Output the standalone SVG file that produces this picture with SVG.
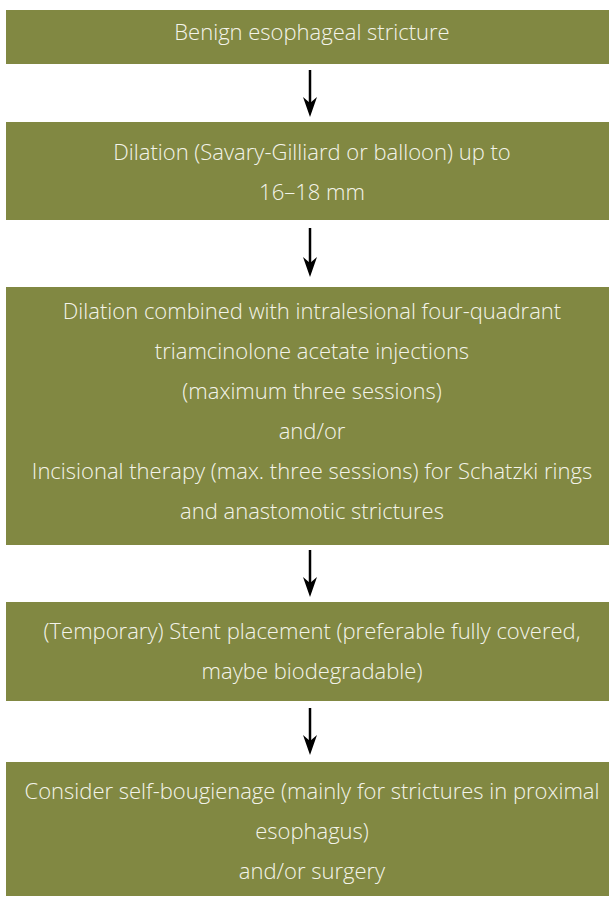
<svg xmlns="http://www.w3.org/2000/svg" width="609" height="897" viewBox="0 0 609 897">
<style>
.box{fill:#818842;}
.t{font-family:"Open Sans","Noto Sans","Liberation Sans",sans-serif;font-size:22px;font-weight:300;fill:#f4f4ea;text-anchor:middle;}
.ln{stroke:#000;stroke-width:2.5;fill:none;}
.hd{fill:#000;}
</style>
<rect width="609" height="897" fill="#fff"/>
<g id="n1"><rect class="box" x="6" y="10" width="603" height="54"/>
<text class="t" x="312" y="40">Benign esophageal stricture</text></g>
<g id="n2"><rect class="box" x="6" y="122" width="603" height="98"/>
<text class="t" x="312" y="160">Dilation (Savary-Gilliard or balloon) up to</text>
<text class="t" x="312" y="200">16–18 mm</text></g>
<g id="n3"><rect class="box" x="6" y="287" width="603" height="258"/>
<text class="t" x="312" y="319">Dilation combined with intralesional four-quadrant</text>
<text class="t" x="312" y="359">triamcinolone acetate injections</text>
<text class="t" x="312" y="399">(maximum three sessions)</text>
<text class="t" x="312" y="439">and/or</text>
<text class="t" x="312" y="479">Incisional therapy (max. three sessions) for Schatzki rings</text>
<text class="t" x="312" y="519">and anastomotic strictures</text></g>
<g id="n4"><rect class="box" x="6" y="602" width="603" height="99"/>
<text class="t" x="312" y="639">(Temporary) Stent placement (preferable fully covered,</text>
<text class="t" x="312" y="679">maybe biodegradable)</text></g>
<g id="n5"><rect class="box" x="6" y="762" width="603" height="134"/>
<text class="t" x="312" y="799">Consider self-bougienage (mainly for strictures in proximal</text>
<text class="t" x="312" y="839">esophagus)</text>
<text class="t" x="312" y="879">and/or surgery</text></g>
<g id="connectors">
<line class="ln" x1="310" y1="70" x2="310" y2="104"/><path class="hd" d="M310,117 L303,97 L310,103 L317,97 Z"/>
<line class="ln" x1="310" y1="228" x2="310" y2="264"/><path class="hd" d="M310,277 L303,257 L310,263 L317,257 Z"/>
<line class="ln" x1="310" y1="550" x2="310" y2="584"/><path class="hd" d="M310,597 L303,577 L310,583 L317,577 Z"/>
<line class="ln" x1="310" y1="708" x2="310" y2="742"/><path class="hd" d="M310,755 L303,735 L310,741 L317,735 Z"/>
</g>
</svg>
